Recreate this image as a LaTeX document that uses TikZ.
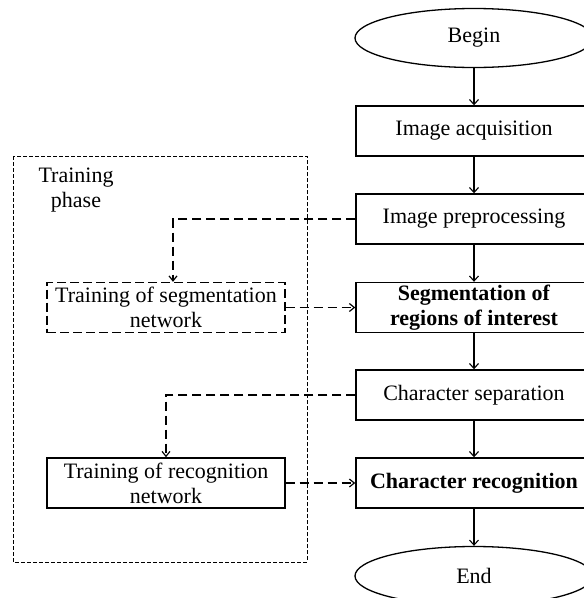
\documentclass[tikz,border=0pt]{standalone}
\usepackage{fontspec}
\setmainfont{Liberation Serif}
\usetikzlibrary{arrows.meta,shapes.geometric}
\begin{document}
\begin{tikzpicture}[x=1pt,y=-1pt,
  txt/.style={font=\fontsize{22}{25}\selectfont, align=center},
  stepbox/.style={txt, draw, line width=1.4pt, rectangle, minimum width=236pt, minimum height=50pt, inner sep=0pt},
  terminal/.style={txt, draw, line width=1.3pt, ellipse, minimum width=238pt, minimum height=59pt, inner sep=0pt},
  trainbox/.style={txt, draw, line width=1.4pt, rectangle, minimum width=238pt, minimum height=50pt, inner sep=0pt},
  dashbox/.style={trainbox, line width=1.3pt, dash pattern=on 9pt off 4pt},
  flow/.style={line width=1.1pt, -{Straight Barb[length=5pt,width=9pt]}},
  feed/.style={line width=1.2pt, dash pattern=on 9pt off 5pt, -{Straight Barb[length=5pt,width=8pt]}},
  frame/.style={line width=0.9pt, dash pattern=on 4pt off 2pt}]
\useasboundingbox (0,0) rectangle (584,598);
\clip (0,0) rectangle (584,598);

% training phase frame
\draw[frame] (13,156) rectangle (307,562);
\node[txt] (phase) at (76,190) {Training\\phase};

% main flow
\node[terminal] (begin) at (474,38) {Begin};
\node[stepbox] (acq) at (474,131) {Image acquisition};
\node[stepbox] (pre) at (474,219) {Image preprocessing};
\node[stepbox] (seg) at (474,307.5) {\textbf{Segmentation of}\\\textbf{regions of interest}};
\node[stepbox] (sep) at (474,395) {Character separation};
\node[stepbox] (rec) at (474,483) {\textbf{Character recognition}};
\node[terminal] (end) at (474,576) {End};

% training blocks
\node[dashbox] (segtrain) at (166,307.5) {Training of segmentation\\network};
\node[trainbox] (rectrain) at (166,483) {Training of recognition\\network};

% flow arrows
\draw[flow] (begin) -- (acq);
\draw[flow] (acq) -- (pre);
\draw[flow] (pre) -- (seg);
\draw[flow] (seg) -- (sep);
\draw[flow] (sep) -- (rec);
\draw[flow] (rec) -- (end);

% training feeds
\draw[feed] (pre.west) -| ([xshift=7pt]segtrain.north);
\draw[feed] (segtrain.east) -- (seg.west);
\draw[feed] (sep.west) -| (rectrain.north);
\draw[feed] (rectrain.east) -- (rec.west);
\end{tikzpicture}
\end{document}
